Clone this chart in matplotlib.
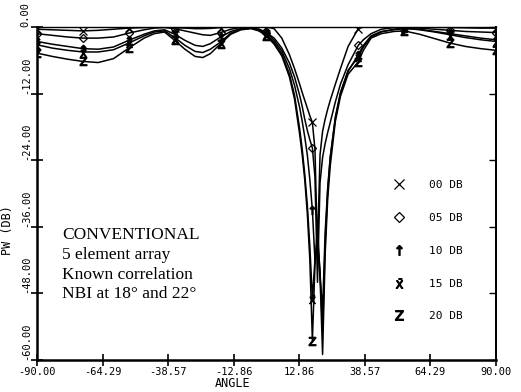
import matplotlib
matplotlib.use("Agg")
import matplotlib.pyplot as plt
from matplotlib.lines import Line2D

# angle grid (deg), denser around the 18/22 deg nulls
angles = [-90, -84, -78, -72, -66, -60, -54, -48, -44, -40,
          -36, -32, -28, -25, -22, -18, -14, -10, -6, -3,
          0, 3, 6, 9, 11, 13, 14, 15, 16, 17,
          18, 19, 20, 21, 22, 23, 24, 25, 27, 29,
          32, 36, 38, 41, 45, 50, 54, 60, 66, 72,
          78, 84, 90]

pw_00db = [-0.4, -0.5, -0.6, -0.7, -0.6, -0.4, -0.2, -0.1, 0.0, 0.0,
           -0.1, -0.2, -0.3, -0.3, -0.25, -0.1, 0.0, 0.0, 0.0, 0.0,
           0.0, -0.3, -2.0, -5.0, -7.5, -10.3, -11.8, -13.2, -14.6, -16.0,
           -17.2, -22.0, -40.0, -23.0, -18.8, -16.6, -14.8, -13.2, -10.3, -7.5,
           -3.5, -0.3, 0.0, 0.0, 0.0, 0.0, 0.0, 0.0, -0.05, -0.1,
           -0.15, -0.2, -0.2]

pw_05db = [-1.2, -1.5, -1.8, -2.0, -2.0, -1.8, -1.1, -0.5, -0.2, -0.1,
           -0.3, -0.7, -1.1, -1.4, -1.5, -1.0, -0.4, -0.1, -0.1, -0.4,
           -1.0, -2.0, -3.8, -6.5, -9.0, -12.3, -14.3, -16.6, -18.6, -20.3,
           -21.8, -27.0, -46.0, -28.0, -23.5, -21.0, -19.0, -17.2, -13.5, -10.3,
           -6.8, -3.3, -2.3, -1.2, -0.4, -0.1, 0.0, -0.2, -0.4, -0.6,
           -0.8, -0.9, -1.0]

pw_10db = [-2.6, -3.1, -3.5, -3.9, -4.0, -3.6, -2.4, -1.3, -0.7, -0.5,
           -1.3, -2.4, -3.3, -3.5, -3.0, -1.8, -0.8, -0.3, -0.2, -0.4,
           -1.0, -2.4, -4.3, -7.5, -10.5, -14.5, -17.0, -19.8, -23.0, -27.5,
           -33.0, -42.0, -39.0, -45.0, -51.0, -37.0, -29.0, -23.5, -16.5, -12.0,
           -8.0, -5.0, -3.3, -1.6, -0.8, -0.5, -0.3, -0.4, -0.8, -1.2,
           -1.6, -2.0, -2.3]

pw_15db = [-3.2, -3.8, -4.2, -4.5, -4.5, -4.1, -2.9, -1.6, -0.9, -0.7,
           -1.9, -3.3, -4.4, -4.6, -4.0, -2.7, -1.1, -0.4, -0.2, -0.6,
           -1.3, -2.8, -4.8, -8.5, -12.3, -18.3, -22.0, -26.5, -32.0, -39.5,
           -49.0, -42.0, -38.0, -44.0, -55.0, -39.0, -29.5, -23.5, -16.2, -11.8,
           -7.8, -5.4, -3.6, -1.8, -0.9, -0.4, -0.2, -0.5, -0.9, -1.4,
           -1.9, -2.3, -2.6]

pw_20db = [-4.7, -5.3, -5.8, -6.2, -6.4, -5.7, -3.8, -2.0, -1.2, -0.9,
           -2.4, -4.0, -5.3, -5.5, -4.8, -3.0, -1.3, -0.5, -0.3, -0.7,
           -1.6, -3.1, -5.2, -9.0, -13.0, -19.3, -23.0, -27.5, -33.5, -42.0,
           -56.5, -43.0, -36.0, -45.0, -59.0, -41.0, -31.0, -25.0, -17.0, -12.5,
           -8.5, -6.3, -4.2, -2.0, -1.2, -0.8, -0.7, -1.3, -2.1, -2.9,
           -3.5, -3.9, -4.2]

labels = ["00 DB", "05 DB", "10 DB", "15 DB", "20 DB"]
markers = ["x", "D", r"$\uparrow$", r"$\bar{\mathsf{X}}$", r"$\mathsf{Z}$"]
marker_angles = [-90, -72, -54, -36, -18, 0, 18, 36, 54, 72, 90]

xticks = [-90.0, -64.29, -38.57, -12.86, 12.86, 38.57, 64.29, 90.0]
yticks = [0, -12, -24, -36, -48, -60]

MONO = "DejaVu Sans Mono"

fig = plt.figure(figsize=(5.21, 3.92), dpi=100)
ax = fig.add_axes([0.071, 0.0816, 0.881, 0.8495])

mark_idx = [i for i, a in enumerate(angles) if a in marker_angles]
curves = [pw_00db, pw_05db, pw_10db, pw_15db, pw_20db]
handles = []
for lab, vals, mk in zip(labels, curves, markers):
    face = "none" if mk == "D" else "black"
    ms = 4 if mk == "D" else 6
    ax.plot(angles, vals, color="black", linewidth=1.1, marker=mk,
            markevery=mark_idx, markersize=ms, markerfacecolor=face,
            markeredgecolor="black", markeredgewidth=0.9)
    handles.append(Line2D([], [], linestyle="none", marker=mk, color="black",
                          markersize=ms + 1, markerfacecolor=face,
                          markeredgewidth=0.9))

ax.set_xlim(-90, 90)
ax.set_ylim(-60, 0)
ax.set_xticks(xticks)
ax.set_xticklabels([f"{t:.2f}" for t in xticks], fontfamily=MONO, fontsize=7.5)
ax.set_yticks(yticks)
ax.set_yticklabels([f"{t:.2f}" for t in yticks], fontfamily=MONO, fontsize=7.5,
                   rotation=90, va="bottom")
ax.tick_params(axis="x", direction="inout", length=8, width=1.2, pad=1)
ax.tick_params(axis="y", direction="inout", length=9, width=1.2, pad=0)

sec = ax.secondary_yaxis("right")
sec.set_yticks(yticks)
sec.tick_params(direction="in", length=5, width=1.0, labelright=False)
sec.spines["right"].set_linewidth(1.3)

ax.spines["left"].set_linewidth(1.8)
ax.spines["bottom"].set_linewidth(1.8)
ax.spines["top"].set_linewidth(1.0)
ax.spines["right"].set_linewidth(1.3)

ax.set_xlabel("ANGLE", fontfamily=MONO, fontsize=8.5)
ax.xaxis.set_label_coords(0.427, -0.05)
ax.set_ylabel("PW (DB)", fontfamily=MONO, fontsize=8.5)
ax.yaxis.set_label_coords(-0.05, 0.39)

ax.text(0.055, 0.398, "CONVENTIONAL\n5 element array\nKnown correlation\nNBI at 18\u00b0 and 22\u00b0",
        transform=ax.transAxes, fontfamily="Liberation Serif", fontsize=12.5,
        va="top", ha="left", linespacing=1.3)

leg = ax.legend(handles, labels, loc="upper left", bbox_to_anchor=(0.755, 0.57),
                frameon=False, handlelength=1.0, handletextpad=2.2,
                labelspacing=2.05, prop={"family": MONO, "size": 8})

fig.savefig("out.png", dpi=100)
